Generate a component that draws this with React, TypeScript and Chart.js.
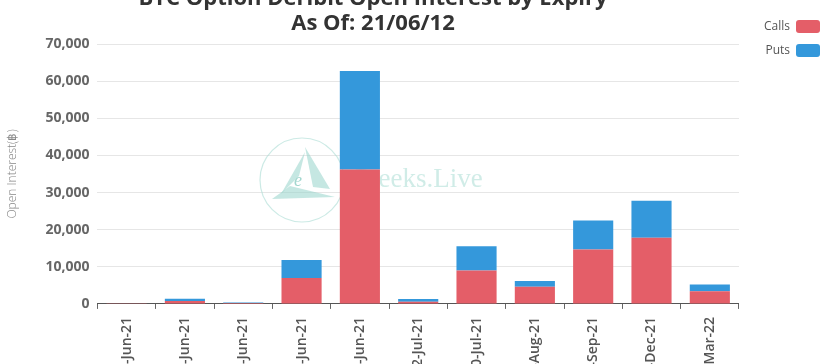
import React, { useEffect, useRef } from "react";
import { Chart, registerables } from "chart.js";

Chart.register(...registerables);

const titleLines = ["BTC Option Deribit Open Interest by Expiry", "As Of: 21/06/12"];
const expiries = [
  "12-Jun-21",
  "13-Jun-21",
  "14-Jun-21",
  "18-Jun-21",
  "25-Jun-21",
  "2-Jul-21",
  "30-Jul-21",
  "27-Aug-21",
  "24-Sep-21",
  "31-Dec-21",
  "25-Mar-22",
];
const callsOI = [20, 800, 250, 7000, 36200, 600, 9000, 4600, 14650, 17800, 3400];
const putsOI = [10, 600, 150, 4800, 26500, 700, 6500, 1600, 7800, 10000, 1800];
const yTicks = [0, 10000, 20000, 30000, 40000, 50000, 60000, 70000];
const yAxisTitle = "Open Interest(฿)";
const watermarkText = "Greeks.Live";

const CALLS_COLOR = "rgb(228, 94, 104)";
const PUTS_COLOR = "rgb(52, 152, 219)";

const titlePlugin = {
  id: "customTitle",
  afterDraw(chart: any) {
    const ctx = chart.ctx;
    ctx.save();
    ctx.font = "700 22px 'Open Sans', sans-serif";
    ctx.fillStyle = "#333";
    ctx.textAlign = "center";
    ctx.textBaseline = "alphabetic";
    ctx.fillText(titleLines[0], 373, 5);
    ctx.fillText(titleLines[1], 373, 30);
    ctx.restore();
  },
};

const watermarkPlugin = {
  id: "watermark",
  beforeDatasetsDraw(chart: any) {
    const ctx = chart.ctx;
    ctx.save();
    const teal = "rgba(150, 212, 202, 0.55)";
    ctx.strokeStyle = "rgba(170, 220, 212, 0.6)";
    ctx.lineWidth = 1.2;
    ctx.beginPath();
    ctx.arc(302, 180, 42, 0, Math.PI * 2);
    ctx.stroke();
    ctx.fillStyle = teal;
    ctx.beginPath();
    ctx.moveTo(281, 194);
    ctx.lineTo(305, 152);
    ctx.lineTo(299, 176);
    ctx.closePath();
    ctx.fill();
    ctx.beginPath();
    ctx.moveTo(305, 147);
    ctx.lineTo(330, 189);
    ctx.lineTo(313, 187);
    ctx.closePath();
    ctx.fill();
    ctx.beginPath();
    ctx.moveTo(272, 199);
    ctx.lineTo(335, 197);
    ctx.lineTo(290, 186);
    ctx.closePath();
    ctx.fill();
    ctx.font = "italic 18px 'Liberation Serif', serif";
    ctx.fillStyle = "rgba(140, 205, 195, 0.8)";
    ctx.textAlign = "center";
    ctx.fillText("e", 298, 186);
    ctx.font = "27px 'Liberation Serif', serif";
    ctx.fillStyle = "rgba(170, 220, 212, 0.55)";
    ctx.textAlign = "left";
    ctx.fillText(watermarkText, 350, 187);
    ctx.restore();
  },
};

export default function App() {
  const canvasRef = useRef<HTMLCanvasElement | null>(null);

  useEffect(() => {
    if (!canvasRef.current) return;
    const chart = new Chart(canvasRef.current, {
      type: "bar",
      data: {
        labels: expiries,
        datasets: [
          {
            label: "Calls",
            data: callsOI,
            backgroundColor: CALLS_COLOR,
            barPercentage: 0.86,
            categoryPercentage: 0.8,
          },
          {
            label: "Puts",
            data: putsOI,
            backgroundColor: PUTS_COLOR,
            barPercentage: 0.86,
            categoryPercentage: 0.8,
          },
        ],
      },
      options: {
        animation: false,
        responsive: true,
        maintainAspectRatio: false,
        layout: { padding: { top: 9, left: 0, right: 0, bottom: 0 } },
        plugins: {
          title: { display: false },
          tooltip: { enabled: false },
          legend: {
            display: true,
            position: "right",
            align: "start",
            rtl: true,
            labels: {
              boxWidth: 24,
              boxHeight: 13,
              padding: 11,
              useBorderRadius: true,
              borderRadius: 3,
              color: "#555",
              font: { family: "'Open Sans', sans-serif", size: 12 },
            },
          },
        },
        scales: {
          x: {
            stacked: true,
            grid: {
              display: true,
              drawOnChartArea: false,
              drawTicks: true,
              tickLength: 5,
              color: "#666",
            },
            border: { display: true, color: "#555", width: 1 },
            ticks: {
              autoSkip: false,
              minRotation: 90,
              maxRotation: 90,
              padding: 8,
              color: "#555",
              font: { family: "'Open Sans', sans-serif", size: 14, weight: "600" },
            },
          },
          y: {
            stacked: true,
            min: 0,
            max: 70000,
            afterBuildTicks: (scale: any) => {
              scale.ticks = yTicks.map((v) => ({ value: v }));
            },
            afterFit: (scale: any) => {
              scale.paddingTop = 44;
            },
            grid: { color: "#e6e6e6", drawTicks: false },
            border: { display: false },
            ticks: {
              padding: 8,
              color: "#666",
              font: { family: "'Open Sans', sans-serif", size: 14, weight: "700" },
              callback: (v: any) => Number(v).toLocaleString("en-US"),
            },
            title: {
              display: true,
              text: yAxisTitle,
              color: "#888",
              font: { family: "'Open Sans', sans-serif", size: 12, weight: "300" },
              padding: { top: 5, bottom: 18 },
            },
          },
          spacer: {
            type: "linear",
            position: "right",
            display: true,
            grid: { display: false },
            border: { display: false },
            ticks: { display: false },
            afterFit: (scale: any) => {
              scale.width = 15;
            },
          },
        },
      },
      plugins: [titlePlugin, watermarkPlugin],
    } as any);
    return () => chart.destroy();
  }, []);

  return (
    <div
      style={{
        position: "fixed",
        top: 0,
        left: 0,
        width: 831,
        height: 364,
        overflow: "hidden",
        background: "#fff",
      }}
    >
      <div style={{ position: "relative", width: 831, height: 393 }}>
        <canvas ref={canvasRef} />
      </div>
    </div>
  );
}
